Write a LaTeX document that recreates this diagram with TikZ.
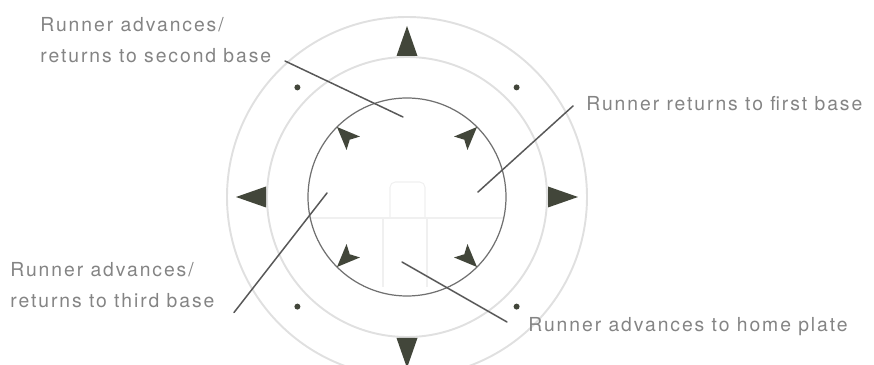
\documentclass[tikz,border=0pt]{standalone}
\usepackage{fontspec}
\newfontfamily\labelfont[LetterSpace=10]{TeX Gyre Heros}
\usepackage{tikz}
\usetikzlibrary{calc}
\definecolor{fieldInk}{RGB}{66,70,58}
\definecolor{fieldLine}{RGB}{88,88,88}
\definecolor{fieldRim}{RGB}{112,112,112}
\definecolor{fieldRing}{RGB}{224,224,224}
\definecolor{fieldFaint}{RGB}{240,240,240}
\definecolor{fieldText}{RGB}{132,132,132}
\tikzset{
  flabel/.style={font=\labelfont\fontsize{11}{17.6}\selectfont,
    text=fieldText, align=left, inner sep=0pt},
  leader/.style={draw=fieldLine, line width=.85pt, line cap=round}
}

\begin{document}
\begin{tikzpicture}[
  ring/.style={draw=fieldRing, line width=1.1pt},
  rim/.style={draw=fieldRim, line width=.7pt},
  faint/.style={draw=fieldFaint, line width=.6pt},
  bigtip/.style={fill=fieldInk},
  smalltip/.style={fill=fieldInk},
  dotmark/.style={fill=fieldInk}
]
\path[use as bounding box] (0,0) rectangle (17.48,7.30);
\clip (0,0) rectangle (17.48,7.30);
\coordinate (c) at (8.14,3.36);

% rings round the field
\draw[ring] (c) circle[radius=3.60];
\draw[ring] (c) circle[radius=2.80];

% faint plate in the middle
\draw[faint] ($(c)+(-1.93,-.42)$) -- ($(c)+(1.93,-.42)$);
\draw[faint, rounded corners=3pt] ($(c)+(-.34,-.42)$) -- ($(c)+(-.34,.30)$)
  -- ($(c)+(.36,.30)$) -- ($(c)+(.36,-.42)$);
\draw[faint] ($(c)+(-.48,-.42)$) -- ($(c)+(-.48,-1.80)$);
\draw[faint] ($(c)+(.40,-.42)$) -- ($(c)+(.40,-1.80)$);

\draw[rim] (c) circle[radius=1.98];

\foreach \a in {0,90,180,270}
  \path[bigtip, shift={(c)}, rotate=\a] (2.82,.21) -- (3.42,0) -- (2.82,-.21) -- cycle;
\foreach \a in {45,135,225,315}{
  \path[smalltip, shift={(c)}, rotate=\a] (1.98,0) -- (1.52,.19) -- (1.62,0) -- (1.52,-.19) -- cycle;
  \path[dotmark] (c) ++(\a:3.10) circle[radius=.06];
}

\node[flabel, anchor=west] (second) at (0.80,6.50) {Runner advances/\\returns to second base};
\node[flabel, anchor=west] (first) at (11.72,5.22) {Runner returns to first base};
\node[flabel, anchor=west] (third) at (0.20,1.59) {Runner advances/\\returns to third base};
\node[flabel, anchor=west] (home) at (10.56,0.76) {Runner advances to home plate};

\coordinate (secondEnd) at (5.70,6.08);
\coordinate (secondSpot) at ($(c)+(-.08,1.60)$);
\coordinate (firstEnd) at (11.46,5.18);
\coordinate (firstSpot) at ($(c)+(1.42,.10)$);
\coordinate (thirdEnd) at (4.68,1.05);
\coordinate (thirdSpot) at ($(c)+(-1.60,.08)$);
\coordinate (homeEnd) at (10.14,.86);
\coordinate (homeSpot) at ($(c)+(-.10,-1.30)$);

\draw[leader] (secondEnd) -- (secondSpot);
\draw[leader] (firstEnd) -- (firstSpot);
\draw[leader] (thirdEnd) -- (thirdSpot);
\draw[leader] (homeEnd) -- (homeSpot);
\end{tikzpicture}
\end{document}
